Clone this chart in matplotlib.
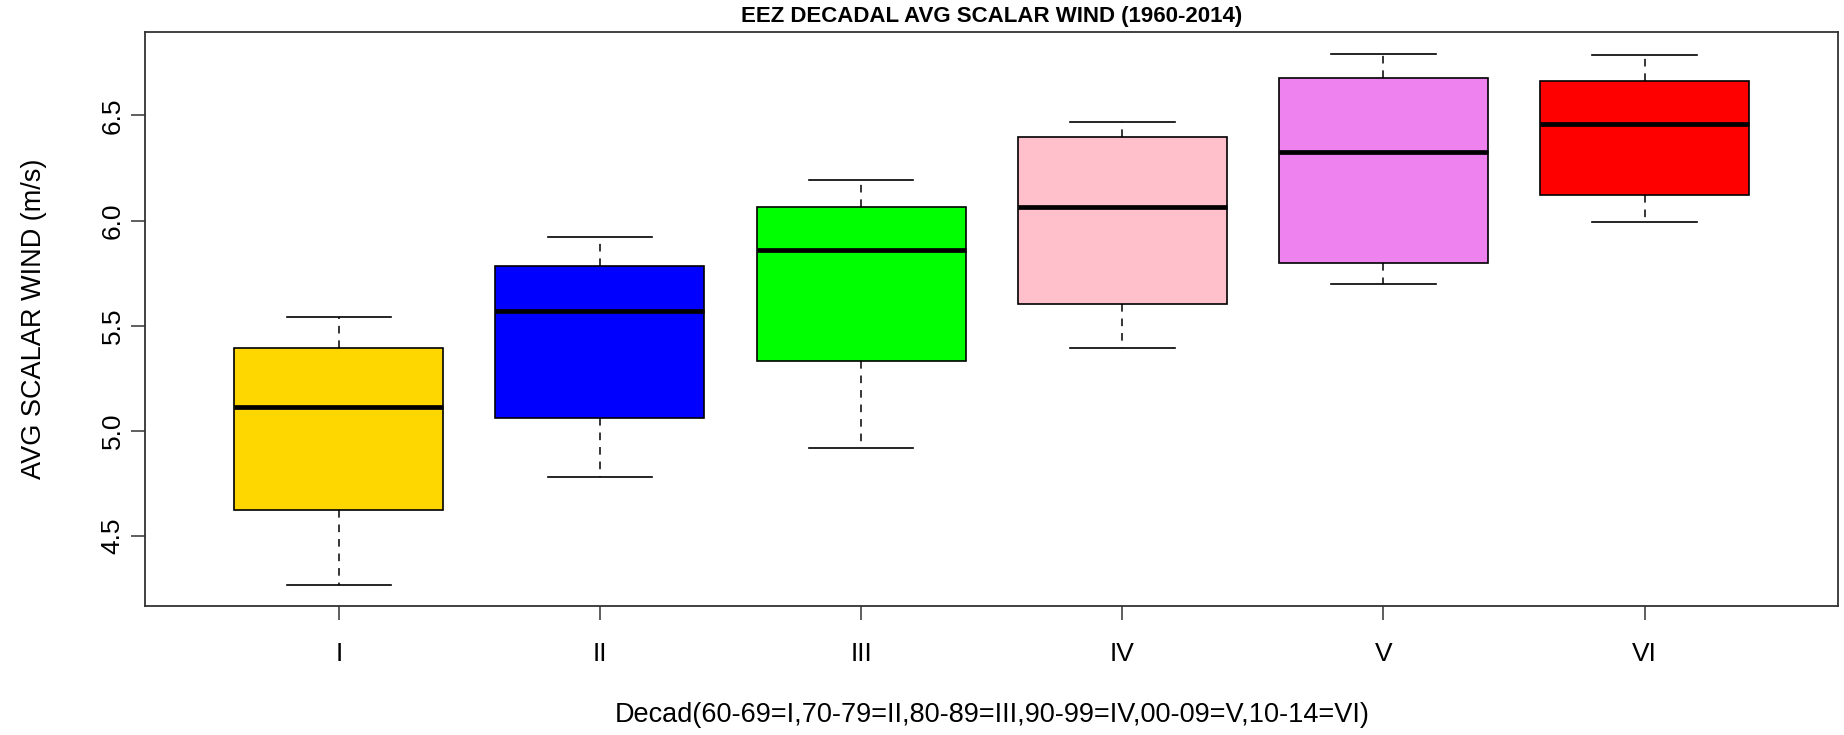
import matplotlib
matplotlib.use("Agg")
import matplotlib.pyplot as plt

plt.rcParams['font.family'] = ['Liberation Sans', 'DejaVu Sans']

# decadal summary (m/s)
decades = ['I', 'II', 'III', 'IV', 'V', 'VI']
whisker_low = [4.266, 4.779, 4.919, 5.393, 5.698, 5.992]
q1 = [4.623, 5.064, 5.333, 5.603, 5.798, 6.122]
median = [5.113, 5.571, 5.861, 6.063, 6.326, 6.458]
q3 = [5.393, 5.783, 6.063, 6.397, 6.676, 6.661]
whisker_high = [5.542, 5.923, 6.195, 6.466, 6.792, 6.785]
box_colors = ['#FFD700', '#0000FF', '#00FF00', '#FFC0CB', '#EE82EE', '#FF0000']

stats = []
for i, name in enumerate(decades):
    stats.append({'label': name, 'whislo': whisker_low[i], 'q1': q1[i], 'med': median[i],
                  'q3': q3[i], 'whishi': whisker_high[i], 'fliers': []})

fig = plt.figure(figsize=(18.44, 7.35), dpi=100)
ax = fig.add_axes([0.0789, 0.176, 0.9178, 0.7802])

bp = ax.bxp(stats, positions=range(1, len(decades) + 1), widths=0.8, patch_artist=True,
            showfliers=False,
            boxprops=dict(edgecolor='black', linewidth=1.2),
            medianprops=dict(color='black', linewidth=3.4, solid_capstyle='butt'),
            whiskerprops=dict(color='black', linewidth=1.1, linestyle=(0, (5, 4.5))),
            capprops=dict(color='black', linewidth=1.2), capwidths=0.4)
for patch, c in zip(bp['boxes'], box_colors):
    patch.set_facecolor(c)

ax.set_xlim(0.26, 6.74)
ax.set_ylim(4.17, 6.895)
ax.set_yticks([4.5, 5.0, 5.5, 6.0, 6.5])
ax.set_yticklabels(['4.5', '5.0', '5.5', '6.0', '6.5'])
ax.tick_params(axis='both', direction='out', length=10, width=1.1, labelsize=19, color='#333333')
ax.tick_params(axis='x', pad=16)
ax.tick_params(axis='y', labelrotation=90, pad=5)
for lab in ax.get_yticklabels():
    lab.set_va('center')
for sp in ax.spines.values():
    sp.set_linewidth(1.3)
    sp.set_color('#333333')

ax.set_xlabel('Decad(60-69=I,70-79=II,80-89=III,90-99=IV,00-09=V,10-14=VI)', fontsize=19.5)
ax.xaxis.label.set_va('center')
ax.xaxis.set_label_coords(0.5, -0.191)
ax.set_ylabel('AVG SCALAR WIND (m/s)', fontsize=19.5)
ax.yaxis.label.set_va('center')
ax.yaxis.set_label_coords(-0.066, 0.5)
ax.set_title('EEZ DECADAL AVG SCALAR WIND (1960-2014)', fontsize=16, fontweight='bold',
             y=1.027, va='center', pad=0)

fig.savefig('out.png', dpi=100)
